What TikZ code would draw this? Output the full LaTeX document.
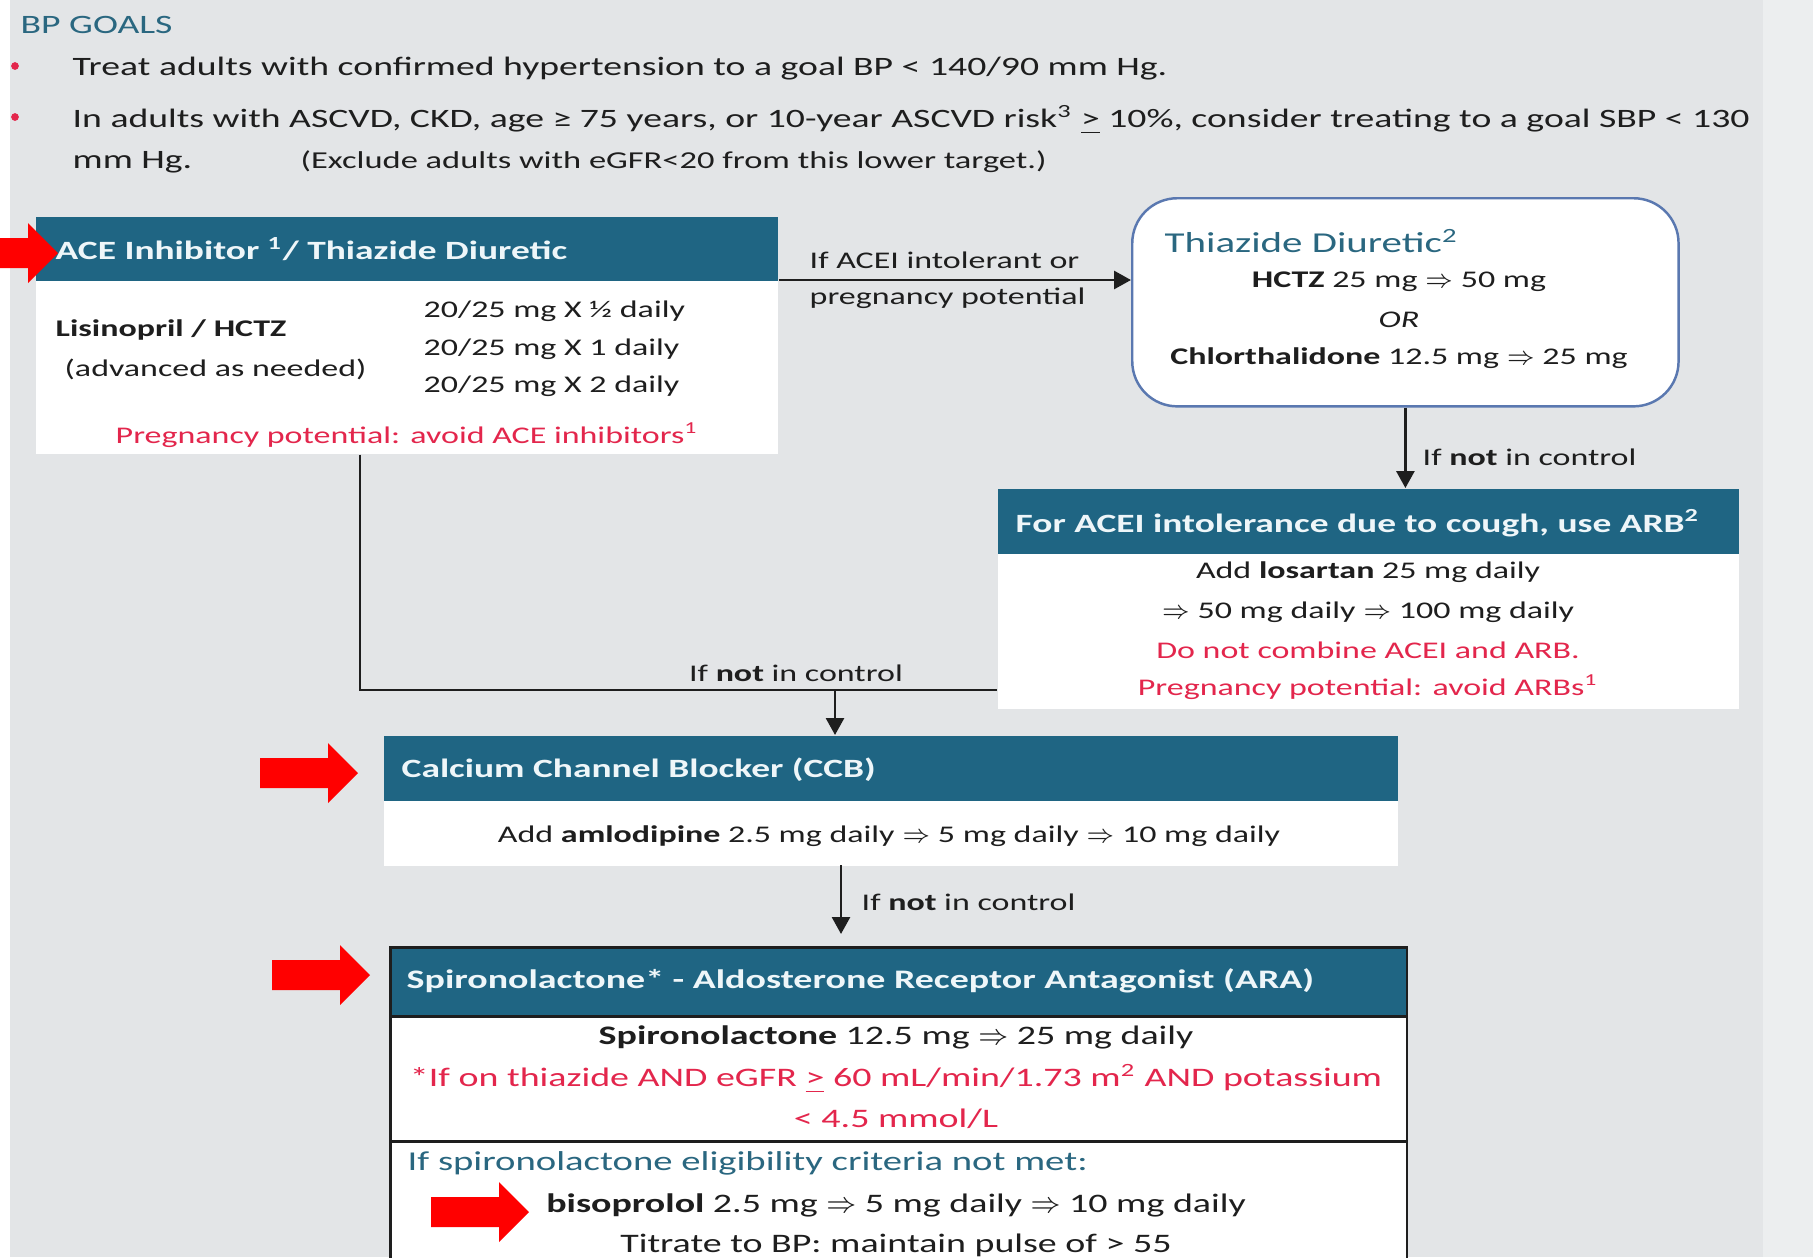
\documentclass[tikz,border=0pt]{standalone}
\usepackage{fontspec}
\setmainfont{Carlito}[FakeStretch=1.42]
\usepackage{tikz}
\usetikzlibrary{
  positioning,
  calc,
  arrows.meta
}

\definecolor{bggray}{HTML}{E3E5E7}
\definecolor{bgright}{HTML}{ECEEEF}
\definecolor{hdrteal}{HTML}{1F6583}
\definecolor{txtteal}{HTML}{2A6780}
\definecolor{warnred}{HTML}{E3264C}
\definecolor{thzblue}{HTML}{5A78B0}
\definecolor{inkgray}{HTML}{1E1E1E}
\definecolor{hdrwhite}{HTML}{EEF6F9}

\tikzset{
  hdr/.style={fill=hdrteal, inner sep=0pt, anchor=north west},
  bodybox/.style={fill=white, inner sep=0pt, anchor=north west},
  hdrtxt/.style={anchor=west, inner sep=0pt, text=hdrwhite,
    font=\fontsize{7.5}{9}\selectfont\bfseries},
  goal/.style={anchor=west, inner sep=0pt, text=inkgray,
    font=\fontsize{7.55}{9}\selectfont},
  txt/.style={inner sep=0pt, text=inkgray,
    font=\fontsize{6.8}{8}\selectfont},
  aratxt/.style={txt, font=\fontsize{7.6}{9}\selectfont},
  flow/.style={->, line width=0.8pt, inkgray},
  flowline/.style={line width=0.8pt, inkgray}
}

\begin{document}
\begin{tikzpicture}[x=0.01cm, y=-0.01cm,
    >={Triangle[length=1.7mm, width=1.8mm]}]
      % Background
      \fill[bggray] (0,0) rectangle (1813,1257);
      \fill[white] (0,0) rectangle (10,1257);
      \fill[bgright] (1763,0) rectangle (1813,1257);
      \useasboundingbox (0,0) rectangle (1813,1257);

      % Goals
      \node[goal, text=txtteal] (goals) at (20,25) {BP GOALS};
      \foreach \y in {66,117} {
        \fill[warnred] (15,\y) circle[radius=1.1pt];
      }
      \node[goal] (goalA) at (72,69) {Treat adults with confirmed hypertension to a goal BP < 140/90 mm Hg.};
      \node[goal] (goalB) at (72,120) {In adults with ASCVD, CKD, age ≥ 75 years, or 10-year ASCVD risk\textsuperscript{3} \underline{>} 10\%, consider treating to a goal SBP < 130};
      \node[goal] (goalC) at (72,162) {mm Hg.};
      \node[goal, font=\fontsize{6.9}{8}\selectfont] (goalD) at (300,162) {(Exclude adults with eGFR<20 from this lower target.)};

      % ACE inhibitor / thiazide box
      \node[hdr, minimum width=7.42cm, minimum height=0.64cm] (aceH) at (35,216) {};
      \node[bodybox, minimum width=7.42cm, minimum height=1.73cm] (aceB) at (35,280) {};
      \node[hdrtxt] (aceT) at (55,249) {ACE Inhibitor \textsuperscript{1}/ Thiazide Diuretic};
      \node[txt, anchor=west, font=\fontsize{6.8}{8}\selectfont\bfseries] (lisin) at (55,330) {Lisinopril / HCTZ};
      \node[txt, anchor=west] (advn) at (64,369) {(advanced as needed)};
      \foreach \y/\n/\k in {311/½/a, 349/1/b, 386/2/c} {
        \node[txt, anchor=west] (dose\k) at (423,\y) {20/25 mg X \n\ daily};
      }
      \node[txt, text=warnred] (acePreg) at (407,435) {Pregnancy potential: avoid ACE inhibitors\textsuperscript{1}};

      % Thiazide diuretic box
      \node[draw=thzblue, line width=0.7pt, fill=white, rounded corners=0.45cm,
        minimum width=5.46cm, minimum height=2.08cm, anchor=north west] (thz) at (1131,197) {};
      \node[goal, text=txtteal, font=\fontsize{8.2}{9}\selectfont] (thzT) at (1164,241) {Thiazide Diuretic\textsuperscript{2}};
      \node[txt] (hctz) at (1399,282) {\textbf{HCTZ} 25 mg $\Rightarrow$ 50 mg};
      \node[txt] (thzOr) at (1399,320) {\textit{OR}};
      \node[txt] (chlor) at (1399,358) {\textbf{Chlorthalidone} 12.5 mg $\Rightarrow$ 25 mg};

      \draw[flow] (aceB.north east) -- (aceB.north east -| thz.west);
      \node[txt, anchor=west] (intolA) at (809,260) {If ACEI intolerant or};
      \node[txt, anchor=west] (intolB) at (809,298) {pregnancy potential};

      % ARB box
      \node[hdr, minimum width=7.41cm, minimum height=0.65cm] (arbH) at (997,488) {};
      \node[bodybox, minimum width=7.41cm, minimum height=1.55cm] (arbB) at (997,553) {};
      \node[hdrtxt] (arbT) at (1015,523) {For ACEI intolerance due to cough, use ARB\textsuperscript{2}};
      \node[txt] (losA) at (1368,572) {Add \textbf{losartan} 25 mg daily};
      \node[txt] (losB) at (1368,612) {$\Rightarrow$ 50 mg daily $\Rightarrow$ 100 mg daily};
      \node[txt, text=warnred] (losC) at (1368,650) {Do not combine ACEI and ARB.};
      \node[txt, text=warnred] (losD) at (1368,687) {Pregnancy potential: avoid ARBs\textsuperscript{1}};

      \draw[flow] (thz.south) -- (thz.south |- arbH.north);
      \node[txt, anchor=west] (ctrlA) at (1422,457) {If \textbf{not} in control};

      % CCB box
      \node[hdr, minimum width=10.14cm, minimum height=0.65cm] (ccbH) at (383,735) {};
      \node[bodybox, minimum width=10.14cm, minimum height=0.65cm] (ccbB) at (383,800) {};
      \node[hdrtxt] (ccbT) at (401,770) {Calcium Channel Blocker (CCB)};
      \node[txt] (amlo) at (889,836) {Add \textbf{amlodipine} 2.5 mg daily $\Rightarrow$ 5 mg daily $\Rightarrow$ 10 mg daily};

      \coordinate (jL) at (360,690);
      \coordinate (jM) at (835,690);
      \draw[flowline] (aceB.south -| jL) -- (jL) -- (jL -| arbB.west);
      \draw[flow] (jM) -- (jM |- ccbH.north);
      \node[txt] (ctrlB) at (796,673) {If \textbf{not} in control};

      % ARA box
      \node[hdr, draw=inkgray, line width=0.8pt, minimum width=10.16cm, minimum height=0.69cm] (araH) at (389,946) {};
      \node[bodybox, draw=inkgray, line width=0.8pt, minimum width=10.16cm, minimum height=1.25cm] (araB) at (389,1015) {};
      \node[bodybox, draw=inkgray, line width=0.8pt, minimum width=10.16cm, minimum height=1.6cm] (araC) at (389,1140) {};
      \node[hdrtxt, font=\fontsize{7.6}{9}\selectfont\bfseries] (araT) at (406,981) {Spironolactone* - Aldosterone Receptor Antagonist (ARA)};
      \node[aratxt] (spiroA) at (896,1037) {\textbf{Spironolactone} 12.5 mg $\Rightarrow$ 25 mg daily};
      \node[aratxt, text=warnred] (spiroB) at (896,1079) {*If on thiazide AND eGFR \underline{>} 60 mL/min/1.73 m\textsuperscript{2} AND potassium};
      \node[aratxt, text=warnred] (spiroC) at (896,1119) {< 4.5 mmol/L};
      \node[aratxt, anchor=west, text=txtteal, font=\fontsize{7.75}{9}\selectfont] (bisoT) at (407,1163) {If spironolactone eligibility criteria not met:};
      \node[aratxt] (bisoA) at (896,1205) {\textbf{bisoprolol} 2.5 mg $\Rightarrow$ 5 mg daily $\Rightarrow$ 10 mg daily};
      \node[aratxt] (bisoB) at (896,1245) {Titrate to BP: maintain pulse of > 55};

      \coordinate (jC) at (841,865);
      \draw[flow, shorten >=0.12cm] (jC) -- (jC |- araH.north);
      \node[txt, anchor=west] (ctrlC) at (861,902) {If \textbf{not} in control};

      % Red pointers
      \foreach \tx/\ty in {58/253, 358/773, 370/975, 529/1212} {
        \fill[red] (\tx,\ty) -- ++(-30,-30) -- ++(0,15) -- ++(-68,0) -- ++(0,30)
          -- ++(68,0) -- ++(0,15) -- cycle;
      }
    \end{tikzpicture}
\end{document}
